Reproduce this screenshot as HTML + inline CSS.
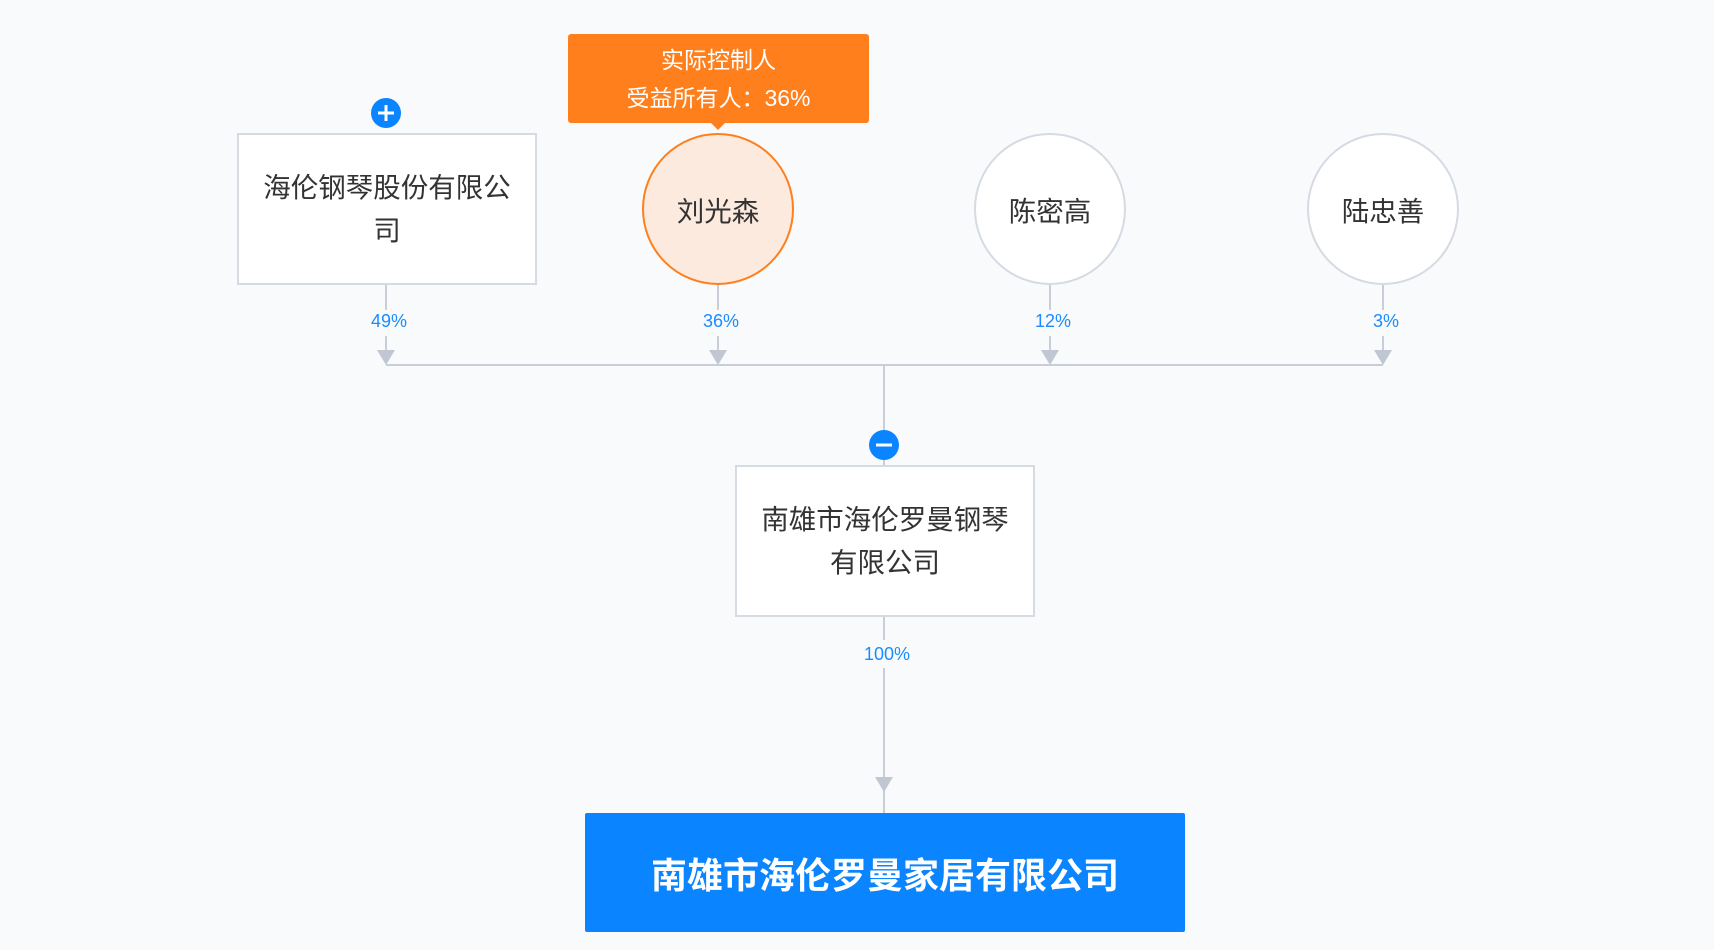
<!DOCTYPE html>
<html><head><meta charset="utf-8"><style>
body{margin:0;width:1714px;height:950px;background:#f8fafc;position:relative;overflow:hidden;font-family:"Liberation Sans","Noto Sans CJK SC",sans-serif;}
.abs{position:absolute;}
.box{position:absolute;background:#fff;border:2px solid #d5dae3;box-sizing:border-box;display:flex;align-items:center;justify-content:center;text-align:center;font-size:27.5px;line-height:43px;color:#333;}
.circ{position:absolute;width:152px;height:152px;border-radius:50%;box-sizing:border-box;border:2px solid #d5dae3;background:#fff;display:flex;align-items:center;justify-content:center;font-size:27.5px;color:#333;}
.pct{position:absolute;font-size:18px;color:#1a8cff;transform:translateX(-50%);}
</style></head><body>
<svg class="abs" style="left:0;top:0" width="1714" height="950">
<g stroke="#c8cdd8" stroke-width="2" fill="none">
<line x1="386" y1="284" x2="386" y2="310"/><line x1="386" y1="336" x2="386" y2="352"/>
<line x1="718" y1="285" x2="718" y2="310"/><line x1="718" y1="336" x2="718" y2="352"/>
<line x1="1050" y1="285" x2="1050" y2="310"/><line x1="1050" y1="336" x2="1050" y2="352"/>
<line x1="1383" y1="285" x2="1383" y2="310"/><line x1="1383" y1="336" x2="1383" y2="352"/>
<line x1="386" y1="365" x2="1383" y2="365"/>
<line x1="884" y1="365" x2="884" y2="465"/>
<line x1="884" y1="616" x2="884" y2="640"/><line x1="884" y1="668" x2="884" y2="813"/>
</g>
<g fill="#c0c6d2">
<polygon points="377,350 395,350 386,365"/><polygon points="709,350 727,350 718,365"/>
<polygon points="1041,350 1059,350 1050,365"/><polygon points="1374,350 1392,350 1383,365"/>
<polygon points="875,777 893,777 884,792"/>
</g>
<circle cx="386" cy="113" r="15" fill="#0a84ff"/>
<line x1="378" y1="113" x2="394" y2="113" stroke="#fff" stroke-width="3"/><line x1="386" y1="105" x2="386" y2="121" stroke="#fff" stroke-width="3"/>
<circle cx="884" cy="445" r="15" fill="#0a84ff"/>
<line x1="876" y1="445" x2="892" y2="445" stroke="#fff" stroke-width="3"/>
<polygon points="710,122 726,122 718,130" fill="#ff7f1c"/>
</svg>
<div class="abs" style="left:568px;top:34px;width:301px;height:89px;background:#ff7f1c;border-radius:3px;color:#fff;font-size:23px;text-align:center;line-height:38px;padding-top:7px;box-sizing:border-box;">实际控制人<br>受益所有人：36%</div>
<div class="box" style="left:237px;top:133px;width:300px;height:152px;">海伦钢琴股份有限公<br>司</div>
<div class="circ" style="left:642px;top:133px;border-color:#ff7f1c;background:#fdeadf;">刘光森</div>
<div class="circ" style="left:974px;top:133px;">陈密高</div>
<div class="circ" style="left:1307px;top:133px;">陆忠善</div>
<div class="pct" style="left:389px;top:311px;">49%</div>
<div class="pct" style="left:721px;top:311px;">36%</div>
<div class="pct" style="left:1053px;top:311px;">12%</div>
<div class="pct" style="left:1386px;top:311px;">3%</div>
<div class="box" style="left:735px;top:465px;width:300px;height:152px;">南雄市海伦罗曼钢琴<br>有限公司</div>
<div class="pct" style="left:887px;top:644px;">100%</div>
<div class="abs" style="left:585px;top:813px;width:600px;height:119px;background:#0a84ff;border-radius:2px;color:#fff;font-size:36px;font-weight:bold;display:flex;align-items:center;justify-content:center;">南雄市海伦罗曼家居有限公司</div>
</body></html>
